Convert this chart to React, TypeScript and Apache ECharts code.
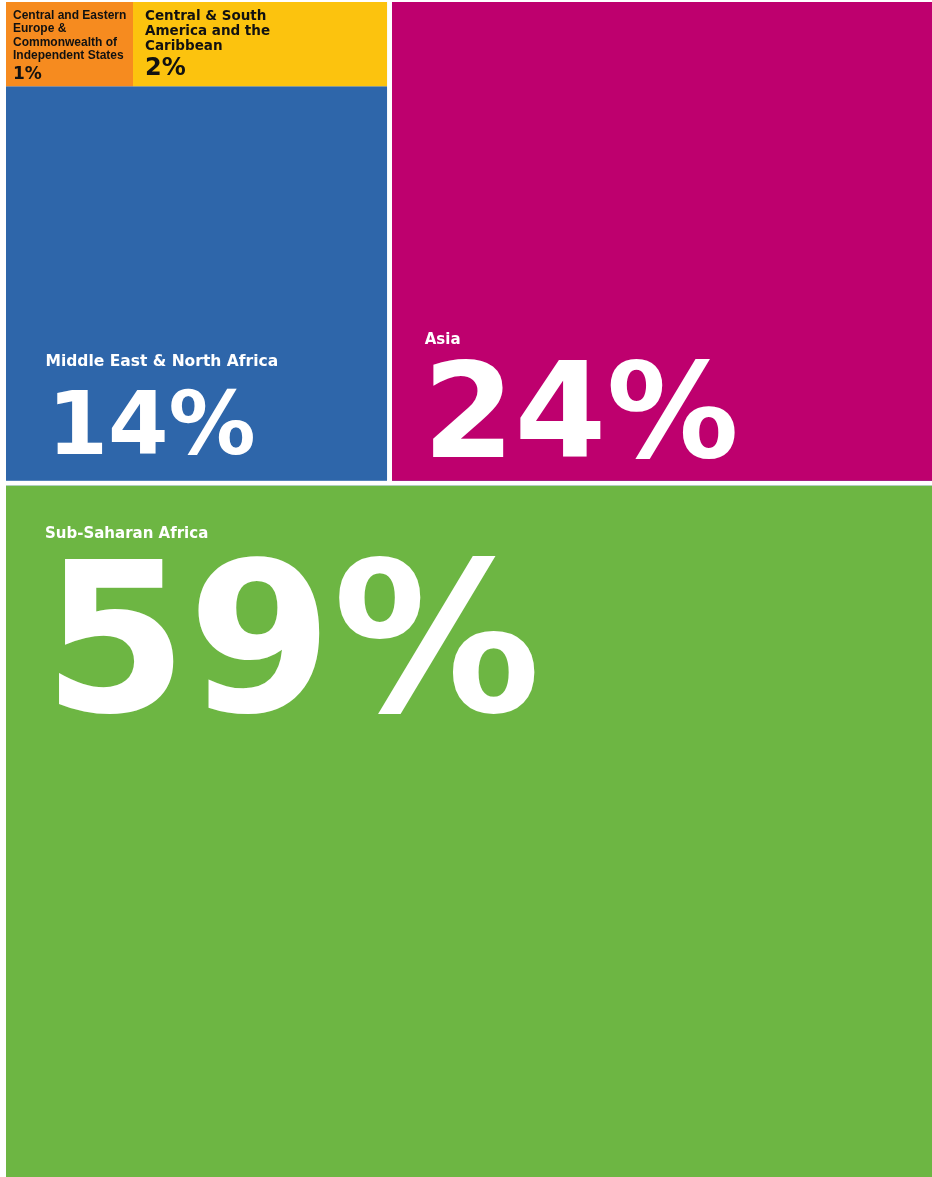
import React, { useEffect, useRef } from "react";
import * as echarts from "echarts";

// ---- data ----
const regions = [
  "Sub-Saharan Africa",
  "Asia",
  "Middle East & North Africa",
  "Central & South America and the Caribbean",
  "Central and Eastern Europe & Commonwealth of Independent States",
];
const shares = [59, 24, 14, 2, 1];
const labelLines = [
  ["Sub-Saharan Africa"],
  ["Asia"],
  ["Middle East & North Africa"],
  ["Central & South", "America and the", "Caribbean"],
  ["Central and Eastern", "Europe &", "Commonwealth of", "Independent States"],
];
const colors = ["#6DB643", "#BE006E", "#2E66AA", "#FCC30E", "#F68B1F"];
// index groups: the three smaller regions share one block
const groupMembers = [4, 3, 2];

// ---- label styling (positions relative to each cell) ----
const SANS = '"DejaVu Sans", sans-serif';
const NARROW = '"Liberation Sans", Arial, sans-serif';
type LS = {
  pos: [number, number];
  nSize: number; nLH: number; nPad: number; nFont: string;
  vSize: number; vLH: number; vPad: number; color: string;
};
const labelStyles: LS[] = [
  { pos: [37, 37.8], nSize: 15, nLH: 18, nPad: 2, nFont: SANS, vSize: 208, vLH: 195, vPad: 0, color: "#ffffff" },
  { pos: [30.7, 327.5], nSize: 15, nLH: 18, nPad: 2, nFont: SANS, vSize: 132, vLH: 127, vPad: 0, color: "#ffffff" },
  { pos: [39.5, 266], nSize: 15.5, nLH: 18, nPad: 0, nFont: SANS, vSize: 87, vLH: 107, vPad: 2, color: "#ffffff" },
  { pos: [12, 5], nSize: 13.5, nLH: 15, nPad: 0, nFont: SANS, vSize: 24, vLH: 30, vPad: 0, color: "#111111" },
  { pos: [7, 6], nSize: 12, nLH: 13.5, nPad: 0, nFont: NARROW, vSize: 17, vLH: 22, vPad: 0, color: "#111111" },
];

function makeLabel(i: number) {
  const s = labelStyles[i];
  const formatter =
    labelLines[i].map((l) => `{n|${l}}`).join("\n") + `\n{v|${shares[i]}%}`;
  return {
    show: true,
    position: s.pos,
    padding: 0,
    overflow: "none",
    align: "left",
    verticalAlign: "top",
    formatter,
    rich: {
      n: {
        fontFamily: s.nFont,
        fontWeight: "bold",
        fontSize: s.nSize,
        lineHeight: s.nLH,
        color: s.color,
        padding: [0, 0, 0, s.nPad],
      },
      v: {
        fontFamily: SANS,
        fontWeight: "bold",
        fontSize: s.vSize,
        lineHeight: s.vLH,
        color: s.color,
        padding: [0, 0, 0, s.vPad],
      },
    },
  };
}

function leaf(i: number) {
  return {
    name: regions[i],
    value: shares[i],
    itemStyle: { color: colors[i] },
    label: makeLabel(i),
  };
}

export default function App() {
  const ref = useRef<HTMLDivElement>(null);
  useEffect(() => {
    if (!ref.current) return;
    const chart = echarts.init(ref.current, null, { renderer: "svg" });
    const groupValue = groupMembers.reduce((a, i) => a + shares[i], 0);
    chart.setOption({
      animation: false,
      series: [
        {
          type: "treemap",
          left: 0,
          top: 0,
          right: 0,
          bottom: 0,
          roam: false,
          nodeClick: false,
          sort: "asc",
          breadcrumb: { show: false },
          label: { show: true },
          upperLabel: { show: false },
          itemStyle: { borderWidth: 0, gapWidth: 0, borderColor: "#ffffff" },
          emphasis: { disabled: true },
          levels: [
            { itemStyle: { gapWidth: 5, borderWidth: 0, borderColor: "#ffffff" } },
            { itemStyle: { gapWidth: 0, borderWidth: 0, borderColor: colors[2] } },
            { itemStyle: { gapWidth: 0, borderWidth: 0 } },
          ],
          data: [
            {
              name: "Smaller regions",
              value: groupValue,
              itemStyle: { color: colors[2], borderColor: colors[2] },
              children: groupMembers.map(leaf),
            },
            leaf(1),
            leaf(0),
          ],
        },
      ],
    });
    return () => chart.dispose();
  }, []);
  return (
    <div
      ref={ref}
      style={{ position: "fixed", left: 6, top: 2, width: 926, height: 1175 }}
    />
  );
}
